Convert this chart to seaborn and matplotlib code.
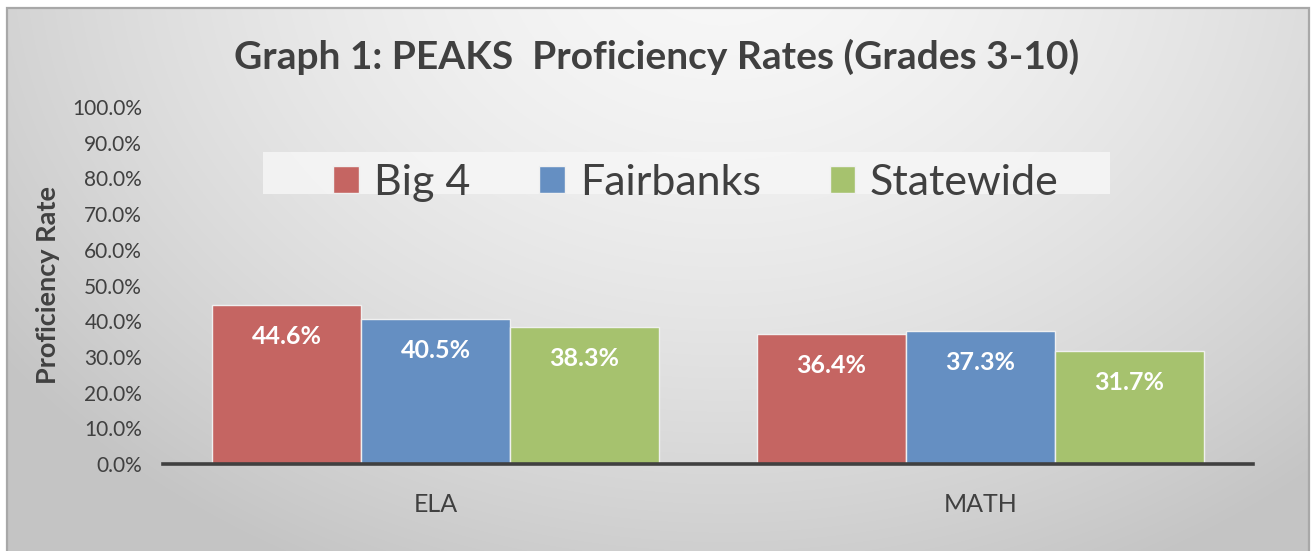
import numpy as np
import pandas as pd
import matplotlib
matplotlib.use("Agg")
import matplotlib.pyplot as plt
import seaborn as sns
from matplotlib.patches import Rectangle

# ---- data ----
subjects = ["ELA", "MATH"]
series = ["Big 4", "Fairbanks", "Statewide"]
big4 = [44.6, 36.4]
fairbanks = [40.5, 37.3]
statewide = [38.3, 31.7]
yticks = [0, 10, 20, 30, 40, 50, 60, 70, 80, 90, 100]
title = "Graph 1: PEAKS  Proficiency Rates (Grades 3-10)"
ylabel = "Proficiency Rate"

colors = ["#C56562", "#658FC2", "#A6C26E"]

df = pd.DataFrame({
    "subject": subjects * 3,
    "series": [series[0]] * 2 + [series[1]] * 2 + [series[2]] * 2,
    "value": big4 + fairbanks + statewide,
})

sns.set_theme(style="white")
FONT = ["Lato", "DejaVu Sans"]
plt.rcParams["font.family"] = FONT
TXT = "#404040"

W, H = 1311, 551
fig = plt.figure(figsize=(W / 100, H / 100), dpi=100)
fig.patch.set_facecolor("white")

# gradient background inside the chart frame
x0, y0, x1 = 7, 8, 1309
bg = fig.add_axes([x0 / W, 0, (x1 - x0) / W, 1 - y0 / H], zorder=-10)
h, w = H - y0, x1 - x0
yy, xx = np.mgrid[0:h, 0:w]
cx, cy = w * 0.55, -h * 0.1
r = np.sqrt(((xx - cx) / (w * 0.62)) ** 2 + ((yy - cy) / (h * 1.15)) ** 2)
val = np.clip(0.97 - 0.17 * r ** 1.6, 0.77, 0.975)
bg.imshow(np.dstack([val, val, val]), aspect="auto", extent=[0, 1, 0, 1])
bg.set_xlim(0, 1); bg.set_ylim(0, 1)
bg.axis("off")
fig.patches.append(Rectangle((x0 / W, -0.01), (x1 - x0) / W, 1.01 - y0 / H,
                             transform=fig.transFigure, fill=False,
                             edgecolor="#a8a8a8", linewidth=1.6))

ax = fig.add_axes([163 / W, 1 - 464 / H, (1253 - 163) / W, (464 - 107) / H])
ax.patch.set_alpha(0)

sns.barplot(data=df, x="subject", y="value", hue="series", order=subjects,
            hue_order=series, palette=colors, width=0.82, gap=0,
            edgecolor="#f0f0f0", linewidth=1.0, saturation=1, ax=ax, legend=False)

for cont in ax.containers:
    ax.bar_label(cont, labels=[f"{v:.1f}%" for v in cont.datavalues],
                 padding=-31, color="white", fontsize=18, fontweight="bold")

ax.set_ylim(0, 100)
ax.set_xlim(-0.5, 1.5)
ax.set_yticks(yticks)
ax.set_yticklabels([f"{t:.1f}%" for t in yticks], fontsize=15, color=TXT)
ax.tick_params(axis="y", length=0, pad=15)
ax.set_xticks([0, 1])
ax.set_xticklabels(subjects, fontsize=18, color=TXT)
ax.set_xticks([-0.5, 0.5, 1.5], minor=True)
ax.tick_params(axis="x", which="major", length=0, pad=21)
ax.tick_params(axis="x", which="minor", length=7, width=2.2, color=TXT, direction="out")
for s in ["left", "right", "top"]:
    ax.spines[s].set_visible(False)
ax.spines["bottom"].set_color(TXT)
ax.spines["bottom"].set_linewidth(2.6)
ax.set_xlabel("")
ax.set_ylabel(ylabel, fontsize=19.5, fontweight="bold", color=TXT, labelpad=9)
ax.grid(False)

fig.text(0.501, 1 - 57 / H, title, ha="center", va="center", fontsize=28,
         fontweight="bold", color=TXT)

# legend
fig.patches.append(Rectangle((263 / W, 1 - 194 / H), (1110 - 263) / W, 42 / H,
                             transform=fig.transFigure, facecolor="#f6f6f6",
                             edgecolor="none", alpha=0.85, zorder=1))
handles = [Rectangle((0, 0), 1, 1, facecolor=c, edgecolor="#f0f0f0") for c in colors]
leg = fig.legend(handles, series, loc="center", bbox_to_anchor=(0.531, 1 - 183 / H),
                 ncol=3, frameon=False, fontsize=31, handlelength=0.6, handleheight=0.6,
                 handletextpad=0.34, columnspacing=1.6, labelcolor=TXT)

fig.savefig("out.png", dpi=100)
